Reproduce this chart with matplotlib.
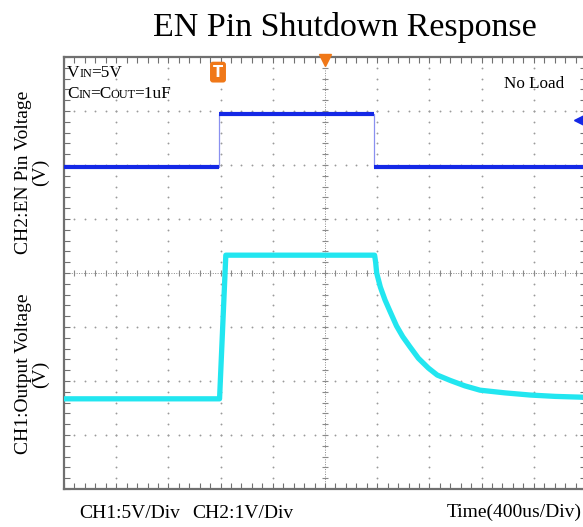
import numpy as np
import matplotlib
matplotlib.use("Agg")
import matplotlib.pyplot as plt

plt.rcParams["font.family"] = ["Liberation Serif", "DejaVu Serif"]

# time axis in divisions (400us/Div), voltages in screen divisions
ch2_t = [-5.0, -2.03, -2.03, 0.94, 0.94, 5.0]
ch2_v = [1.96, 1.96, 2.94, 2.94, 1.96, 1.96]

ch1_t = [-5.0, -2.02, -1.90, 0.95, 0.97, 0.99, 1.06, 1.15, 1.25, 1.37, 1.49,
         1.63, 1.79, 1.98, 2.15, 2.40, 2.68, 2.97, 3.45, 3.93, 4.41, 4.92, 5.0]
ch1_v = [-2.33, -2.33, 0.33, 0.33, 0.2, 0.0, -0.26, -0.5, -0.72, -0.98, -1.18,
         -1.37, -1.58, -1.76, -1.89, -1.99, -2.09, -2.17, -2.22, -2.26, -2.285, -2.30, -2.31]

blue = "#1428e6"
blue_edge = "#8a90f0"
cyan = "#22e6f0"
grid_col = "#9a9a9a"
orange = "#f07818"

fig = plt.figure(figsize=(5.83, 5.27), dpi=100)
ax = fig.add_axes([64 / 583, 1 - 489 / 527, 522 / 583, 432 / 527])
ax.set_xlim(-5, 5)
ax.set_ylim(-4, 4)

# frame and ticks
for s in ax.spines.values():
    s.set_color("#707070")
    s.set_linewidth(1.6)
ax.set_xticks(np.arange(-5, 6, 1))
ax.set_yticks(np.arange(-4, 5, 1))
ax.set_xticks(np.arange(-5, 5.01, 0.2), minor=True)
ax.set_yticks(np.arange(-4, 4.01, 0.2), minor=True)
ax.tick_params(which="both", direction="in", top=True, right=True, length=4,
               width=0.8, color="#707070", labelbottom=False, labelleft=False)

# dotted graticule
fine = np.arange(-4, 4.01, 0.2)
for gx in range(-4, 5):
    if gx == 0:
        continue
    ax.scatter(np.full_like(fine, gx), fine, s=1.8, color=grid_col, linewidths=0, zorder=1)
finex = np.arange(-5, 5.01, 0.2)
for gy in range(-3, 4):
    if gy == 0:
        continue
    ax.scatter(finex, np.full_like(finex, gy), s=1.8, color=grid_col, linewidths=0, zorder=1)

# centre cross with small ticks
ax.axhline(0, color="#8a8a8a", lw=0.7, ls=(0, (1, 1.5)), zorder=1)
ax.axvline(0, color="#8a8a8a", lw=0.7, ls=(0, (1, 1.5)), zorder=1)
ax.plot(finex, np.zeros_like(finex), ls="none", marker="|", ms=4, mew=0.8, color="#8a8a8a", zorder=1)
ax.plot(np.zeros_like(fine), fine, ls="none", marker="_", ms=5, mew=0.8, color="#8a8a8a", zorder=1)

# CH2 trace: thin edges, thick levels
ax.plot(ch2_t, ch2_v, color=blue_edge, lw=0.9, zorder=3)
for i in range(0, len(ch2_t), 2):
    ax.plot(ch2_t[i:i + 2], ch2_v[i:i + 2], color=blue, lw=3.0, solid_capstyle="butt", zorder=4)

# CH1 trace
ax.plot(ch1_t, ch1_v, color=cyan, lw=3.8, solid_joinstyle="round", zorder=4)

# CH2 level marker on the right
ax.plot([4.88, 5.0], [2.83, 2.83], color=blue, lw=2.2, zorder=5, clip_on=False)
ax.plot([4.86], [2.83], marker="<", ms=7, color=blue, zorder=5)

# trigger markers
ax.text(-2.05, 3.72, "T", color="white", fontsize=10.5, fontweight="bold",
        family="DejaVu Sans", ha="center", va="center", zorder=6,
        bbox=dict(boxstyle="round,pad=0.2", fc=orange, ec="none"))
ax.plot([0], [3.94], marker="v", ms=8, color=orange, clip_on=False, zorder=6)

# in-screen labels with small-caps subscripts
fig.canvas.draw()
renderer = fig.canvas.get_renderer()


def rich_text(x_px, base_px, parts):
    x = x_px
    for txt, size in parts:
        t = fig.text(x / 583, 1 - base_px / 527, txt, fontsize=size, va="baseline", ha="left")
        bb = t.get_window_extent(renderer)
        x += bb.width - (1.2 if size < 10 else 0.3)


rich_text(67, 77, [("V", 12.4), ("IN", 8.8), ("=5V", 12.4)])
rich_text(67, 97.5, [("C", 12.4), ("IN", 8.8), ("=C", 12.4), ("OUT", 8.8), ("=1uF", 12.4)])
fig.text(504 / 583, 1 - 88 / 527, "No Load", fontsize=12.3, va="baseline", ha="left")

# title and outer labels
fig.text(345 / 583, 1 - 36 / 527, "EN Pin Shutdown Response", fontsize=24.5,
         ha="center", va="baseline")
fig.text(32 / 583, 1 - 172 / 527, "CH2:EN Pin Voltage\n(V)", fontsize=14, rotation=90,
         ha="center", va="center", multialignment="center", linespacing=1.0)
fig.text(32 / 583, 1 - 374 / 527, "CH1:Output Voltage\n(V)", fontsize=14, rotation=90,
         ha="center", va="center", multialignment="center", linespacing=1.0)
fig.text(79 / 583, 1 - 518 / 527, "CH1:5V/Div", fontsize=14, ha="left", va="baseline")
fig.text(192 / 583, 1 - 518 / 527, "CH2:1V/Div", fontsize=14, ha="left", va="baseline")
fig.text(582 / 583, 1 - 517 / 527, "Time(400us/Div)", fontsize=14, ha="right", va="baseline")

fig.savefig("out.png", dpi=100)
